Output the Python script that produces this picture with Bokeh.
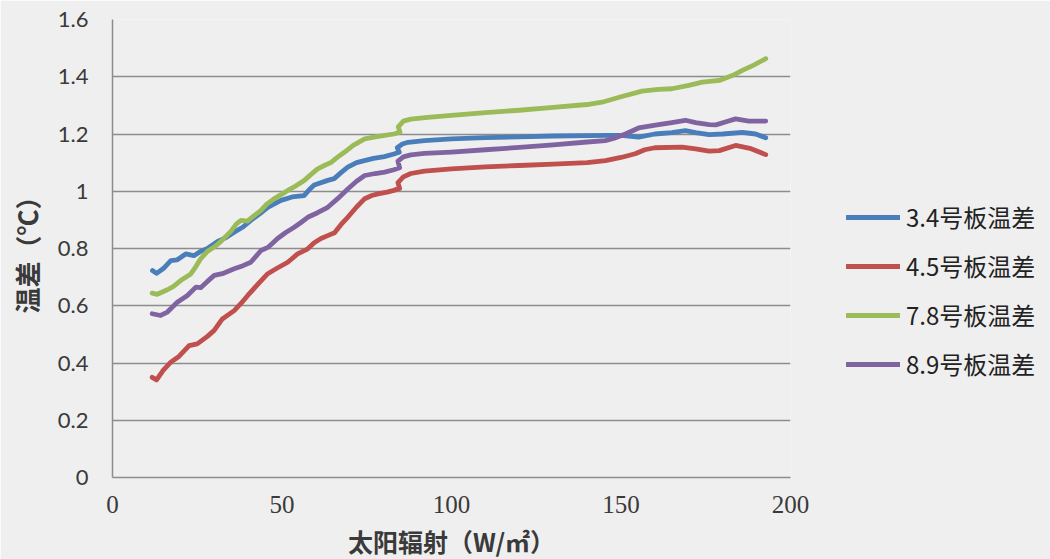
from bokeh.plotting import figure
from bokeh.models import Range1d, FixedTicker, Legend, LegendItem, CustomJSTickFormatter
from bokeh.embed import file_html
from bokeh.resources import INLINE

# Solar radiation (W/m2) vs. temperature difference (°C) for four panel pairs
x_34 = [11.8, 13.0, 15.0, 17.2, 19.0, 21.6, 24.0, 26.0, 28.0, 31.0, 33.5, 35.9, 38.5, 40.8,
        43.5, 45.8, 49.7, 53.0, 56.5, 58.0, 59.5, 63.5, 65.4, 67.5, 69.4, 72.0, 74.3, 77.0,
        80.2, 83.0, 84.6, 84.0, 85.5, 87.2, 92.0, 100.0, 110.0, 120.0, 130.0, 146.3, 150.0,
        155.2, 160.0, 165.0, 169.0, 172.0, 176.0, 180.0, 185.8, 189.7, 192.7]
y_34 = [0.723, 0.713, 0.730, 0.758, 0.760, 0.781, 0.775, 0.790, 0.800, 0.825, 0.838, 0.857,
        0.875, 0.898, 0.922, 0.944, 0.968, 0.980, 0.985, 1.005, 1.022, 1.038, 1.044, 1.066,
        1.084, 1.100, 1.107, 1.115, 1.121, 1.130, 1.136, 1.152, 1.165, 1.171, 1.177, 1.183,
        1.187, 1.190, 1.193, 1.195, 1.195, 1.189, 1.200, 1.205, 1.212, 1.205, 1.198, 1.200,
        1.206, 1.200, 1.187]

x_45 = [11.7, 13.0, 15.0, 17.2, 19.6, 22.6, 25.0, 28.0, 30.0, 32.4, 35.9, 37.9, 39.9, 42.5,
        45.8, 48.5, 51.7, 54.6, 57.6, 59.5, 61.5, 63.5, 65.5, 67.5, 69.4, 72.0, 74.4, 76.5,
        78.3, 81.0, 83.0, 84.7, 84.2, 85.8, 88.0, 92.0, 100.0, 110.0, 120.0, 130.0, 140.0,
        145.4, 150.0, 154.2, 157.0, 160.0, 168.0, 172.0, 176.0, 179.0, 183.8, 188.0, 192.7]
y_45 = [0.350, 0.341, 0.375, 0.403, 0.423, 0.461, 0.467, 0.493, 0.514, 0.554, 0.583, 0.608,
        0.636, 0.670, 0.712, 0.731, 0.752, 0.781, 0.799, 0.820, 0.835, 0.845, 0.855, 0.885,
        0.909, 0.945, 0.974, 0.985, 0.991, 0.997, 1.003, 1.010, 1.030, 1.050, 1.062, 1.070,
        1.078, 1.085, 1.090, 1.095, 1.100, 1.107, 1.118, 1.131, 1.145, 1.152, 1.154, 1.148,
        1.140, 1.142, 1.160, 1.150, 1.128]

x_78 = [11.7, 13.2, 16.2, 18.0, 20.1, 23.1, 24.5, 26.0, 28.0, 30.0, 32.0, 34.9, 36.5, 37.9,
        39.8, 41.5, 43.8, 45.5, 47.7, 50.0, 51.7, 54.0, 56.6, 58.5, 60.5, 62.5, 64.5, 66.5,
        68.4, 71.0, 74.4, 77.5, 80.3, 83.0, 84.8, 84.3, 85.8, 88.0, 93.0, 100.0, 110.0, 120.0,
        130.0, 140.0, 144.4, 150.0, 156.2, 161.0, 165.0, 170.0, 174.0, 179.0, 183.0, 185.8,
        189.0, 192.7]
y_78 = [0.644, 0.640, 0.656, 0.668, 0.688, 0.711, 0.735, 0.764, 0.790, 0.805, 0.825, 0.860,
        0.885, 0.898, 0.896, 0.912, 0.933, 0.955, 0.974, 0.990, 1.003, 1.018, 1.038, 1.058,
        1.078, 1.090, 1.101, 1.120, 1.136, 1.160, 1.183, 1.190, 1.195, 1.200, 1.206, 1.225,
        1.245, 1.252, 1.258, 1.265, 1.275, 1.283, 1.293, 1.303, 1.311, 1.330, 1.350, 1.356,
        1.358, 1.370, 1.381, 1.387, 1.405, 1.422, 1.440, 1.463]

x_89 = [11.7, 14.2, 16.2, 19.1, 22.1, 24.6, 26.0, 28.0, 30.0, 32.4, 35.9, 38.5, 40.8, 43.8,
        46.0, 48.7, 51.0, 53.6, 55.5, 57.6, 60.5, 63.5, 66.5, 69.4, 72.0, 74.4, 77.5, 80.3,
        83.0, 84.7, 84.2, 85.8, 88.0, 92.0, 100.0, 110.0, 120.0, 130.0, 140.0, 145.4, 148.0,
        151.3, 155.2, 161.1, 165.0, 169.0, 172.0, 176.0, 178.0, 181.0, 183.8, 187.7, 192.7]
y_89 = [0.572, 0.566, 0.578, 0.612, 0.636, 0.665, 0.663, 0.685, 0.706, 0.712, 0.729, 0.740,
        0.752, 0.793, 0.805, 0.835, 0.855, 0.874, 0.890, 0.909, 0.925, 0.944, 0.975, 1.008,
        1.035, 1.055, 1.062, 1.067, 1.075, 1.082, 1.105, 1.120, 1.127, 1.132, 1.137, 1.145,
        1.153, 1.162, 1.172, 1.177, 1.185, 1.200, 1.221, 1.233, 1.240, 1.248, 1.240, 1.233,
        1.232, 1.243, 1.253, 1.245, 1.245]

series_names = ["3.4号板温差", "4.5号板温差", "7.8号板温差", "8.9号板温差"]
series_colors = ["#4a7ebb", "#c0504d", "#9bbb59", "#8064a2"]
y_ticks = [0, 0.2, 0.4, 0.6, 0.8, 1.0, 1.2, 1.4, 1.6]
x_ticks = [0, 50, 100, 150, 200]

BG = "#efefef"
GRID = "#8c8c8c"
TXT = "#3a3a3a"
CJK = "Noto Sans CJK SC"

p = figure(width=1050, height=559, frame_width=678, frame_height=458,
           min_border_left=112, min_border_right=260, min_border_top=19, min_border_bottom=82,
           x_range=Range1d(0, 200), y_range=Range1d(0, 1.6),
           output_backend="svg", toolbar_location=None)
p.background_fill_color = BG
p.border_fill_color = BG
p.outline_line_color = None

renderers = []
for xs, ys, c in zip([x_34, x_45, x_78, x_89], [y_34, y_45, y_78, y_89], series_colors):
    r = p.line(xs, ys, line_color=c, line_width=4.8, line_join="round", line_cap="round")
    renderers.append(r)

# axes
p.xaxis.ticker = FixedTicker(ticks=x_ticks)
p.yaxis.ticker = FixedTicker(ticks=y_ticks)
p.yaxis.formatter = CustomJSTickFormatter(code="return (Math.round(tick*10)/10).toString();")
for ax in (p.xaxis[0], p.yaxis[0]):
    ax.axis_line_color = GRID
    ax.axis_line_width = 1.5
    ax.major_tick_line_color = None
    ax.minor_tick_line_color = None
    ax.major_tick_out = 0
    ax.major_tick_in = 0
    ax.major_label_text_color = TXT
    ax.axis_label_text_color = TXT
    ax.axis_label_text_font = CJK
    ax.axis_label_text_font_style = "bold"

p.yaxis.major_label_text_font = "Lato"
p.yaxis.major_label_text_font_size = "22px"
p.yaxis.major_label_standoff = 24
p.yaxis.axis_label = "温差（℃）"
p.yaxis.axis_label_text_font_size = "26px"
p.yaxis.axis_label_standoff = 10

p.xaxis.major_label_text_font = "Liberation Serif"
p.xaxis.major_label_text_font_size = "25px"
p.xaxis.major_label_standoff = 18
p.xaxis.axis_label = "太阳辐射（W/㎡）"
p.xaxis.axis_label_text_font_size = "25px"
p.xaxis.axis_label_standoff = 7

p.xgrid.grid_line_color = None
p.ygrid.grid_line_color = GRID
p.ygrid.grid_line_width = 1.5

legend = Legend(items=[LegendItem(label=n, renderers=[r]) for n, r in zip(series_names, renderers)],
                location=(56, 96), orientation="vertical",
                background_fill_alpha=0, border_line_color=None,
                label_text_font=CJK, label_text_font_size="24px", label_text_color="#222222",
                glyph_width=54, glyph_height=24, label_height=24, spacing=14,
                label_standoff=6, padding=0, margin=0)
p.add_layout(legend, "right")

open("out.html", "w").write(file_html(p, INLINE))
